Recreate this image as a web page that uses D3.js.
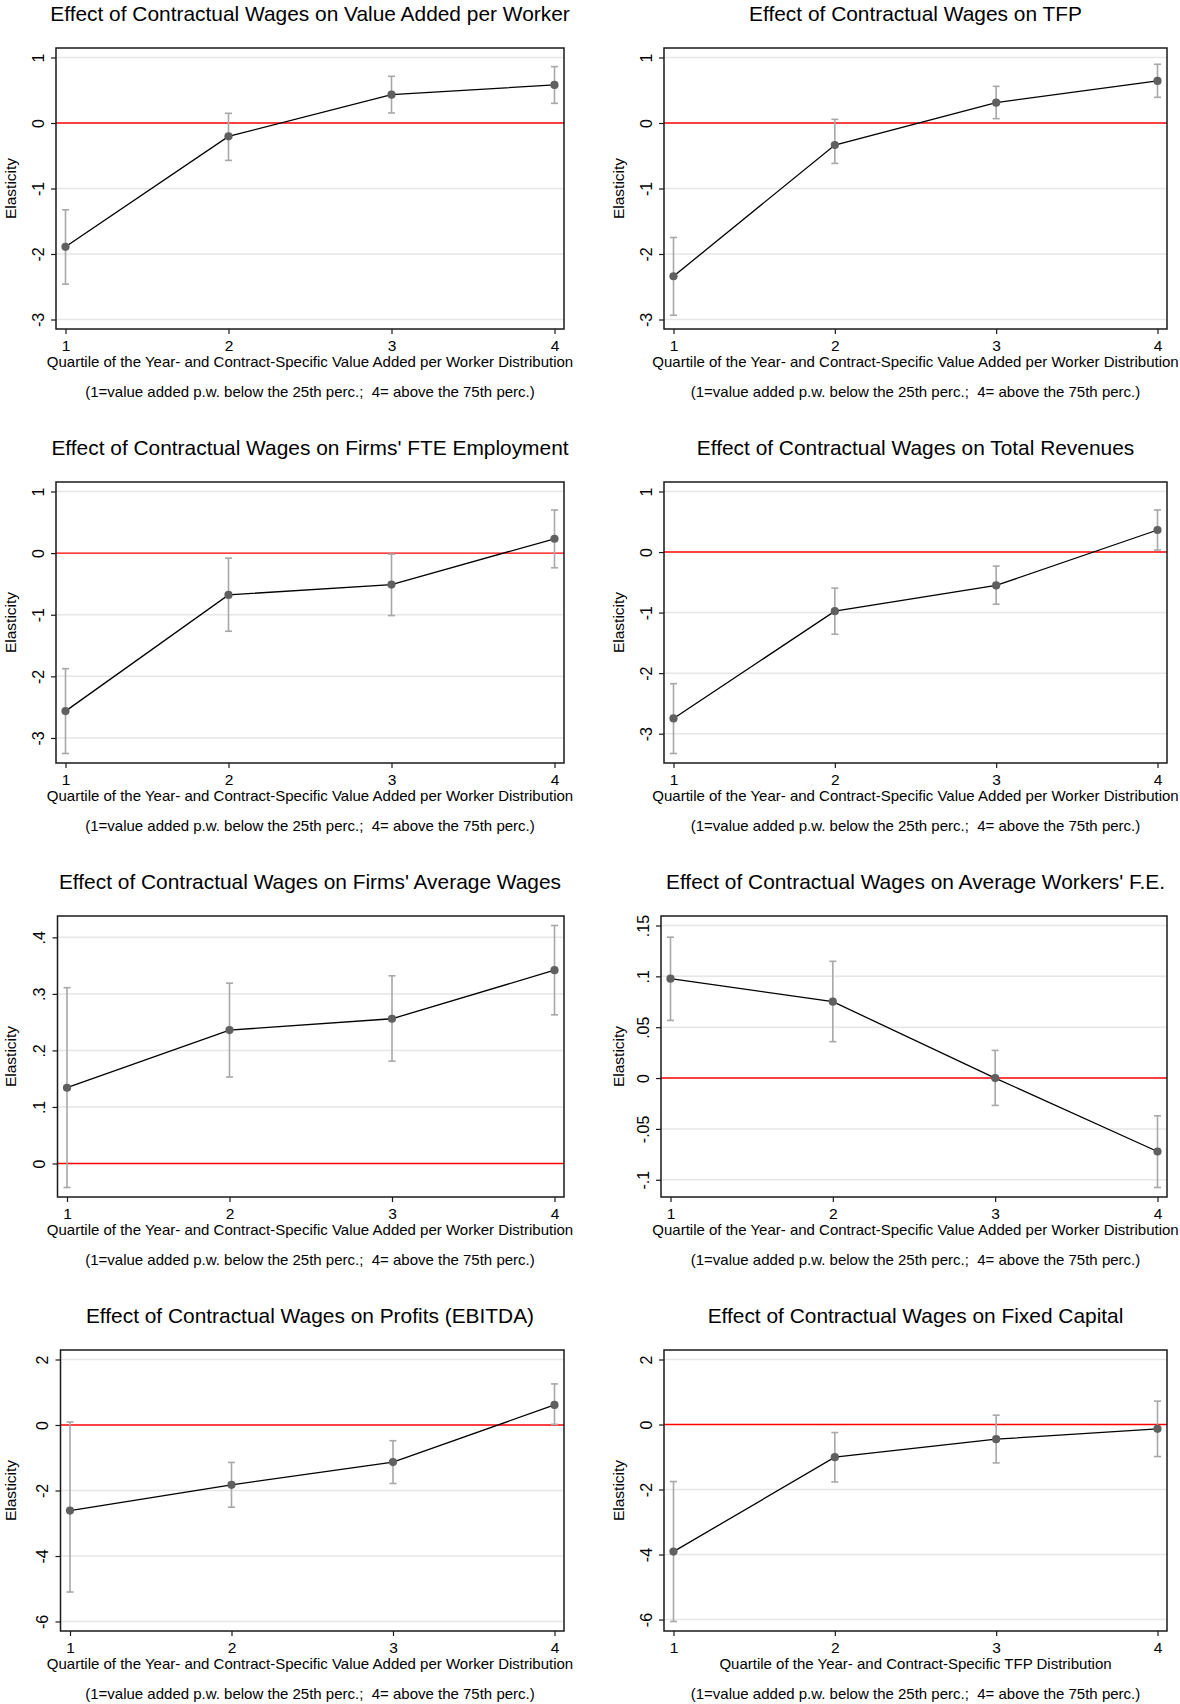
<!DOCTYPE html>
<html>
<head>
<meta charset="utf-8">
<script src="https://cdnjs.cloudflare.com/ajax/libs/d3/7.8.5/d3.min.js"></script>
<style>
body { margin: 0; background: #fff; }
text { font-family: "Liberation Sans", Arial, Helvetica, sans-serif; }
</style>
</head>
<body>
<script>
var w = 1180;
var h = 1704;

var titles = [
    "Effect of Contractual Wages on Value Added per Worker",
    "Effect of Contractual Wages on TFP",
    "Effect of Contractual Wages on Firms' FTE Employment",
    "Effect of Contractual Wages on Total Revenues",
    "Effect of Contractual Wages on Firms' Average Wages",
    "Effect of Contractual Wages on Average Workers' F.E.",
    "Effect of Contractual Wages on Profits (EBITDA)",
    "Effect of Contractual Wages on Fixed Capital"
];
var vaLabel = "Quartile of the Year- and Contract-Specific Value Added per Worker Distribution";
var tfpLabel = "Quartile of the Year- and Contract-Specific TFP Distribution";
var xTitles = [vaLabel, vaLabel, vaLabel, vaLabel, vaLabel, vaLabel, vaLabel, tfpLabel];
var noteText = "(1=value added p.w. below the 25th perc.;  4= above the 75th perc.)";
var yTitle = "Elasticity";

var quartiles = [1, 2, 3, 4];

var tickValues = [
    [1, 0, -1, -2, -3],
    [1, 0, -1, -2, -3],
    [1, 0, -1, -2, -3],
    [1, 0, -1, -2, -3],
    [0.4, 0.3, 0.2, 0.1, 0],
    [0.15, 0.1, 0.05, 0, -0.05, -0.1],
    [2, 0, -2, -4, -6],
    [2, 0, -2, -4, -6]
];
var tickLabels = [
    ["1", "0", "-1", "-2", "-3"],
    ["1", "0", "-1", "-2", "-3"],
    ["1", "0", "-1", "-2", "-3"],
    ["1", "0", "-1", "-2", "-3"],
    [".4", ".3", ".2", ".1", "0"],
    [".15", ".1", ".05", "0", "-.05", "-.1"],
    ["2", "0", "-2", "-4", "-6"],
    ["2", "0", "-2", "-4", "-6"]
];

// point estimates by quartile
var coef = [
    [-1.89, -0.204, 0.433, 0.581],
    [-2.34, -0.336, 0.311, 0.642],
    [-2.564, -0.678, -0.51, 0.233],
    [-2.748, -0.977, -0.552, 0.364],
    [0.134, 0.236, 0.256, 0.342],
    [0.0977, 0.0751, 0.0, -0.0722],
    [-2.612, -1.827, -1.133, 0.612],
    [-3.91, -1.006, -0.452, -0.133]
];
// confidence interval bounds
var lower = [
    [-2.46, -0.571, 0.153, 0.30],
    [-2.935, -0.617, 0.066, 0.392],
    [-3.252, -1.268, -1.014, -0.238],
    [-3.327, -1.357, -0.861, 0.033],
    [-0.0425, 0.153, 0.181, 0.263],
    [0.0567, 0.0358, -0.0269, -0.1076],
    [-5.10, -2.51, -1.786, 0.02],
    [-6.06, -1.766, -1.181, -0.986]
];
var upper = [
    [-1.325, 0.148, 0.713, 0.861],
    [-1.748, 0.056, 0.56, 0.897],
    [-1.875, -0.081, -0.016, 0.70],
    [-2.174, -0.596, -0.232, 0.695],
    [0.311, 0.319, 0.332, 0.421],
    [0.1385, 0.1148, 0.0272, -0.0371],
    [0.092, -1.143, -0.48, 1.255],
    [-1.755, -0.246, 0.287, 0.719]
];

// layout
var rowStep = 434;
var frameTop = 48;
var frameBottom = 329;
var frameLeft = [56, 664];
var frameRight = [564, 1167];
var leftAdj = [0, 0, 0, 0, 1.5, -3, 4.5, 0];
var pad = 9.5;

var svg = d3.select("body")
    .append("svg")
    .attr("width", w)
    .attr("height", h);

titles.forEach(function (t, i) {
    drawPanel(i);
});

function drawPanel(i) {
    var col = i % 2;
    var row = Math.floor(i / 2);
    var top = frameTop + row * rowStep;
    var bottom = frameBottom + row * rowStep;
    var left = frameLeft[col] + leftAdj[i];
    var right = frameRight[col];
    var base = row * rowStep;
    var cx = (frameLeft[col] + frameRight[col]) / 2;

    var lo = d3.min(tickValues[i].concat(lower[i]));
    var hi = d3.max(tickValues[i].concat(upper[i]));

    var x = d3.scaleLinear().domain([1, 4]).range([left + pad, right - pad]);
    var y = d3.scaleLinear().domain([lo, hi]).range([bottom - pad, top + pad]);

    var g = svg.append("g");

    //---title----
    g.append("text")
        .text(titles[i])
        .attr("x", cx)
        .attr("y", base + 20.5)
        .attr("text-anchor", "middle")
        .attr("font-size", 20.9)
        .attr("fill", "#000");

    //---grid----
    g.selectAll(".grid")
        .data(tickValues[i].filter(function (d) { return d !== 0; }))
        .enter()
        .append("line")
        .attr("x1", left)
        .attr("x2", right)
        .attr("y1", function (d) { return y(d); })
        .attr("y2", function (d) { return y(d); })
        .attr("stroke", "#e6e6e6")
        .attr("stroke-width", 1.5);

    // zero line
    g.append("line")
        .attr("x1", left)
        .attr("x2", right)
        .attr("y1", y(0))
        .attr("y2", y(0))
        .attr("stroke", "#ff0000")
        .attr("stroke-width", 1.4);

    //---confidence intervals----
    var ci = g.selectAll(".ci")
        .data(quartiles)
        .enter()
        .append("g")
        .attr("stroke", "#a8a8a8")
        .attr("stroke-width", 1.6);
    ci.append("line")
        .attr("x1", function (d) { return x(d); })
        .attr("x2", function (d) { return x(d); })
        .attr("y1", function (d, j) { return y(lower[i][j]); })
        .attr("y2", function (d, j) { return y(upper[i][j]); });
    ci.append("line")
        .attr("x1", function (d) { return x(d) - 3.5; })
        .attr("x2", function (d) { return x(d) + 3.5; })
        .attr("y1", function (d, j) { return y(lower[i][j]); })
        .attr("y2", function (d, j) { return y(lower[i][j]); });
    ci.append("line")
        .attr("x1", function (d) { return x(d) - 3.5; })
        .attr("x2", function (d) { return x(d) + 3.5; })
        .attr("y1", function (d, j) { return y(upper[i][j]); })
        .attr("y2", function (d, j) { return y(upper[i][j]); });

    //---line + points----
    var line = d3.line()
        .x(function (d) { return x(d); })
        .y(function (d, j) { return y(coef[i][j]); });
    g.append("path")
        .datum(quartiles)
        .attr("d", line)
        .attr("fill", "none")
        .attr("stroke", "#000")
        .attr("stroke-width", 1.3);

    g.selectAll(".pt")
        .data(quartiles)
        .enter()
        .append("circle")
        .attr("cx", function (d) { return x(d); })
        .attr("cy", function (d, j) { return y(coef[i][j]); })
        .attr("r", 4.1)
        .attr("fill", "#606060");

    //---frame----
    g.append("rect")
        .attr("x", left)
        .attr("y", top)
        .attr("width", right - left)
        .attr("height", bottom - top)
        .attr("fill", "none")
        .attr("stroke", "#1a1a1a")
        .attr("stroke-width", 1.5);

    //---axes----
    var yAxis = d3.axisLeft(y)
        .tickValues(tickValues[i])
        .tickFormat(function (d, j) { return tickLabels[i][j]; })
        .tickSize(5)
        .tickSizeOuter(0);
    var ya = g.append("g")
        .attr("transform", "translate(" + left + ",0)")
        .call(yAxis);
    ya.select(".domain").remove();
    ya.selectAll(".tick line").attr("stroke", "#1a1a1a").attr("stroke-width", 1.2);
    ya.selectAll(".tick text")
        .attr("transform", "rotate(-90)")
        .attr("x", 0)
        .attr("y", -12.5)
        .attr("dy", 0)
        .attr("text-anchor", "middle")
        .attr("font-size", 16)
        .attr("font-family", "Liberation Sans, Arial, sans-serif")
        .attr("fill", "#000");

    var xAxis = d3.axisBottom(x)
        .tickValues(quartiles)
        .tickFormat(d3.format("d"))
        .tickSize(5)
        .tickSizeOuter(0);
    var xa = g.append("g")
        .attr("transform", "translate(0," + bottom + ")")
        .call(xAxis);
    xa.select(".domain").remove();
    xa.selectAll(".tick line").attr("stroke", "#1a1a1a").attr("stroke-width", 1.2);
    xa.selectAll(".tick text")
        .attr("y", 21.5)
        .attr("dy", 0)
        .attr("font-size", 15.5)
        .attr("font-family", "Liberation Sans, Arial, sans-serif")
        .attr("fill", "#000");

    //---axis titles----
    g.append("text")
        .text(yTitle)
        .attr("transform", "translate(" + (frameLeft[col] - 40.5) + "," + ((top + bottom) / 2) + ") rotate(-90)")
        .attr("text-anchor", "middle")
        .attr("font-size", 15.5)
        .attr("fill", "#000");

    g.append("text")
        .text(xTitles[i])
        .attr("x", cx)
        .attr("y", base + 366.5)
        .attr("text-anchor", "middle")
        .attr("font-size", 15.0)
        .attr("fill", "#000");

    g.append("text")
        .text(noteText)
        .attr("x", cx)
        .attr("y", base + 396.5)
        .attr("text-anchor", "middle")
        .attr("xml:space", "preserve")
        .style("white-space", "pre")
        .attr("font-size", 15)
        .attr("fill", "#000");
}
</script>
</body>
</html>
